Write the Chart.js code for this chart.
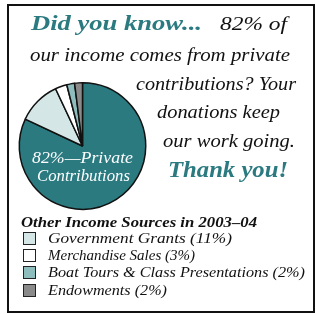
<!DOCTYPE html>
<html>
<head>
<meta charset="utf-8">
<script src="https://cdn.jsdelivr.net/npm/chart.js@4"></script>
<style>
  html, body { margin: 0; padding: 0; background: #fff; }
  #wrap { position: relative; width: 315px; height: 314px; }
  #frame { position: absolute; left: 7px; top: 4px; width: 304px; height: 305px; border: 2px solid #111; }
  canvas { position: absolute; left: 0; top: 0; }
</style>
</head>
<body>
<div id="wrap">
  <div id="frame"></div>
  <canvas id="pie" width="315" height="314"></canvas>
</div>
<script>
// income shares 2003-04, clockwise from 12 o'clock
const categories = ['Private Contributions', 'Government Grants', 'Merchandise Sales', 'Boat Tours & Class Presentations', 'Endowments'];
const shares = [82, 11, 3, 2, 2];
const sliceColors = ['#2a7a80', '#d4e6e6', '#ffffff', '#8ebdbe', '#8a8a8a'];

const teal = sliceColors[0];
const serif = '"Liberation Serif"';

// text blocks: left x, baseline y, target width
const textLines = [
    { text: 'Did you know...', x: 31, y: 30, w: 171, font: 'italic bold 22px ' + serif, color: teal },
    { text: shares[0] + '% of', x: 220, y: 30, w: 67, font: 'italic 19px ' + serif, color: '#111' },
    { text: 'our income comes from private', x: 30, y: 61, w: 260, font: 'italic 19px ' + serif, color: '#111' },
    { text: 'contributions? Your', x: 136, y: 90, w: 160, font: 'italic 19px ' + serif, color: '#111' },
    { text: 'donations keep', x: 157, y: 118, w: 123, font: 'italic 19px ' + serif, color: '#111' },
    { text: 'our work going.', x: 163, y: 147, w: 132, font: 'italic 19px ' + serif, color: '#111' },
    { text: 'Thank you!', x: 168, y: 177, w: 120, font: 'italic bold 24px ' + serif, color: teal },
    { text: shares[0] + '%\u2014Private', x: 32, y: 163, w: 101, font: 'italic 17px ' + serif, color: '#fff' },
    { text: 'Contributions', x: 37, y: 181, w: 93, font: 'italic 17px ' + serif, color: '#fff' },
    { text: 'Other Income Sources in 2003\u201304', x: 21, y: 227, w: 236, font: 'italic bold 15px ' + serif, color: '#111' }
];

const legendBaselines = [243, 260, 277, 295];
const legendWidths = [184, 147, 257, 119];

function fitText(ctx, t) {
    ctx.font = t.font;
    const m = ctx.measureText(t.text).width;
    ctx.save();
    ctx.translate(t.x, t.y);
    ctx.scale(t.w / m, 1);
    ctx.fillStyle = t.color;
    ctx.textBaseline = 'alphabetic';
    ctx.fillText(t.text, 0, 0);
    ctx.restore();
}

const textPlugin = {
    id: 'textPlugin',
    afterDraw(chart) {
        const ctx = chart.ctx;
        textLines.forEach(t => fitText(ctx, t));

        // legend for the smaller sources
        for (let i = 1; i < categories.length; i++) {
            const y = legendBaselines[i - 1];
            ctx.fillStyle = sliceColors[i];
            ctx.fillRect(23, y - 11, 13, 13);
            ctx.strokeStyle = '#222';
            ctx.lineWidth = 1;
            ctx.strokeRect(23.5, y - 10.5, 12, 12);
            fitText(ctx, {
                text: categories[i] + ' (' + shares[i] + '%)',
                x: 48, y: y, w: legendWidths[i - 1],
                font: 'italic 15px ' + serif, color: '#111'
            });
        }
    }
};

function draw() {
    new Chart(document.getElementById('pie'), {
        type: 'pie',
        data: {
            labels: categories,
            datasets: [{
                data: shares,
                backgroundColor: sliceColors,
                borderColor: '#111',
                borderWidth: 1.5
            }]
        },
        options: {
            responsive: false,
            animation: false,
            layout: { padding: { left: 18, right: 168, top: 82, bottom: 104 } },
            plugins: {
                legend: { display: false },
                tooltip: { enabled: false }
            }
        },
        plugins: [textPlugin]
    });
}

Promise.all([
    document.fonts.load('italic 20px "Liberation Serif"'),
    document.fonts.load('italic bold 20px "Liberation Serif"')
]).then(draw, draw);
</script>
</body>
</html>
